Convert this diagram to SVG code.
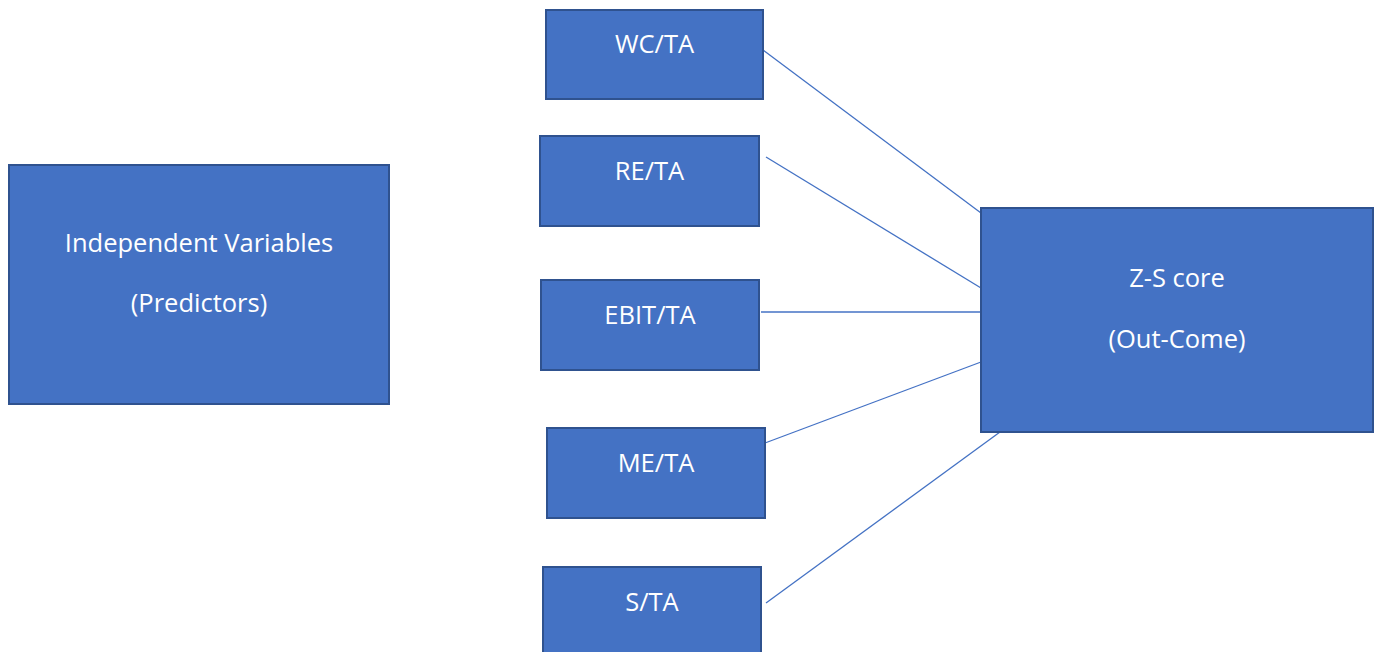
<svg xmlns="http://www.w3.org/2000/svg" width="1377" height="652" viewBox="0 0 1377 652">
<style>
.box{fill:#4472C4;stroke:#2F528F;stroke-width:2}
.lbl{font-family:"Open Sans","Liberation Sans",sans-serif;font-size:25.5px;fill:#FFFFFF;text-anchor:middle}
.con{stroke:#4472C4;stroke-width:1.3;fill:none}
</style>
<rect width="1377" height="652" fill="#FFFFFF"/>
<g id="connectors">
<line class="con" x1="763" y1="50" x2="981" y2="213"/>
<line class="con" x1="766" y1="157" x2="981" y2="288"/>
<line class="con" x1="761" y1="312" x2="981" y2="312"/>
<line class="con" x1="765" y1="443" x2="981" y2="362"/>
<line class="con" x1="766" y1="603" x2="1000" y2="432"/>
</g>
<g id="predictors">
<rect class="box" x="9" y="165" width="380" height="239"/>
<text class="lbl" x="199" y="252">Independent Variables</text>
<text class="lbl" x="199" y="312">(Predictors)</text>
</g>
<g id="wc_ta">
<rect class="box" x="546" y="10" width="217" height="89"/>
<text class="lbl" x="654.5" y="53">WC/TA</text>
</g>
<g id="re_ta">
<rect class="box" x="540" y="136" width="219" height="90"/>
<text class="lbl" x="649.5" y="180">RE/TA</text>
</g>
<g id="ebit_ta">
<rect class="box" x="541" y="280" width="218" height="90"/>
<text class="lbl" x="650" y="324">EBIT/TA</text>
</g>
<g id="me_ta">
<rect class="box" x="547" y="428" width="218" height="90"/>
<text class="lbl" x="656" y="472">ME/TA</text>
</g>
<g id="s_ta">
<rect class="box" x="543" y="567" width="218" height="95"/>
<text class="lbl" x="652" y="611">S/TA</text>
</g>
<g id="zscore">
<rect class="box" x="981" y="208" width="392" height="224"/>
<text class="lbl" x="1177" y="287">Z-S core</text>
<text class="lbl" x="1177" y="348">(Out-Come)</text>
</g>
</svg>
